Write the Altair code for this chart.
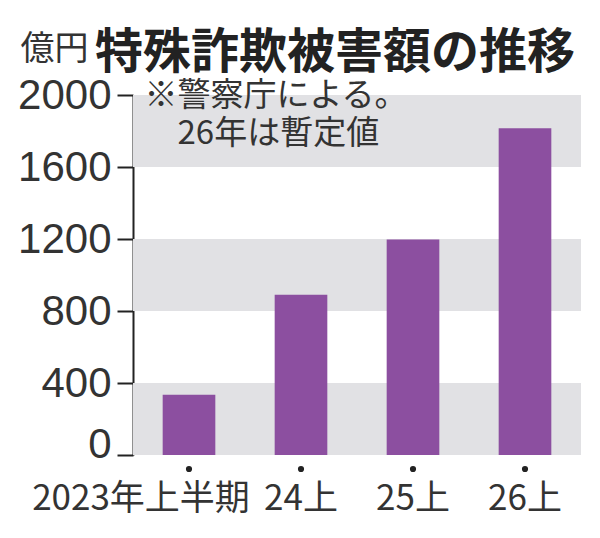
import pandas as pd
import altair as alt

# Data (unit: 100 million yen)
periods = ["2023年上半期", "24上", "25上", "26上"]
amounts = [335, 890, 1197, 1815]

# Shaded horizontal stripes behind the bars
stripe_low = [0, 800, 1600]
stripe_high = [400, 1200, 2000]

y_ticks = [0, 400, 800, 1200, 1600, 2000]

title_text = "特殊詐欺被害額の推移"
# zero-width space keeps Vega from trimming the indent
note_lines = ["\u200b\u3000\u2002※警察庁による。", "\u200b\u3000\u3000\u200226年は暫定値"]
unit_text = "億円"

FONT = "Noto Sans CJK JP"
NUM_FONT = "Liberation Sans"
BAR_COLOR = "#8c4fa0"
STRIPE_COLOR = "#e1e1e4"

bars_df = pd.DataFrame({"period": periods, "amount": amounts})
stripes_df = pd.DataFrame({"low": stripe_low, "high": stripe_high})

y_scale = alt.Scale(domain=[0, 2000], nice=False)
x_scale = alt.Scale(paddingInner=0.53, paddingOuter=0.265)

y_axis = alt.Axis(
    values=y_ticks, grid=False, format="d",
    domainColor="#222", domainWidth=2,
    tickColor="#222", tickWidth=2, tickSize=16,
    labelFont=NUM_FONT, labelFontSize=42, labelColor="#333", labelPadding=6,
    labelOffset={"condition": {"test": "datum.value === 0", "value": -11}, "value": 0},
    title=unit_text, titleAngle=0, titleAlign="left", titleBaseline="top",
    titleX=-113, titleY=-63, titleFont=FONT, titleFontSize=34,
    titleFontWeight="normal", titleColor="#333",
)

x_axis = alt.Axis(
    domain=False, ticks=False, labelAngle=0, labelLimit=0,
    labelFont=FONT, labelFontSize=35, labelColor="#333", labelPadding=26,
    labelOffset={"condition": {"test": "datum.value === '2023年上半期'", "value": -48}, "value": 0},
    title=None,
)

stripes = alt.Chart(stripes_df).mark_rect(color=STRIPE_COLOR).encode(
    y=alt.Y("low:Q", scale=y_scale, axis=y_axis),
    y2="high:Q",
)

bars = alt.Chart(bars_df).mark_bar(color=BAR_COLOR).encode(
    x=alt.X("period:N", sort=None, scale=x_scale, axis=x_axis),
    y=alt.Y("amount:Q", scale=y_scale),
)

# small dot marker under each bar
dots = alt.Chart(bars_df).mark_circle(size=38, color="#222", opacity=1, yOffset=14).encode(
    x=alt.X("period:N", sort=None),
    y=alt.datum(0),
)

chart = alt.layer(stripes, bars, dots).properties(
    width=448, height=360,
    autosize=alt.AutoSizeParams(type="none"),
    padding={"left": 125, "top": 87, "right": 11, "bottom": 75},
    title=alt.TitleParams(
        text=title_text, subtitle=note_lines,
        anchor="start", frame="group", orient="top",
        font=FONT, fontSize=48, fontWeight="bold", color="#222",
        subtitleFont=FONT, subtitleFontSize=33, subtitleColor="#333",
        subtitleLineHeight=38, subtitlePadding=2,
        dx=-38, offset=-119,
    ),
).configure_view(stroke=None)

chart.save("out.html", embed_options={"renderer": "svg", "actions": False})
